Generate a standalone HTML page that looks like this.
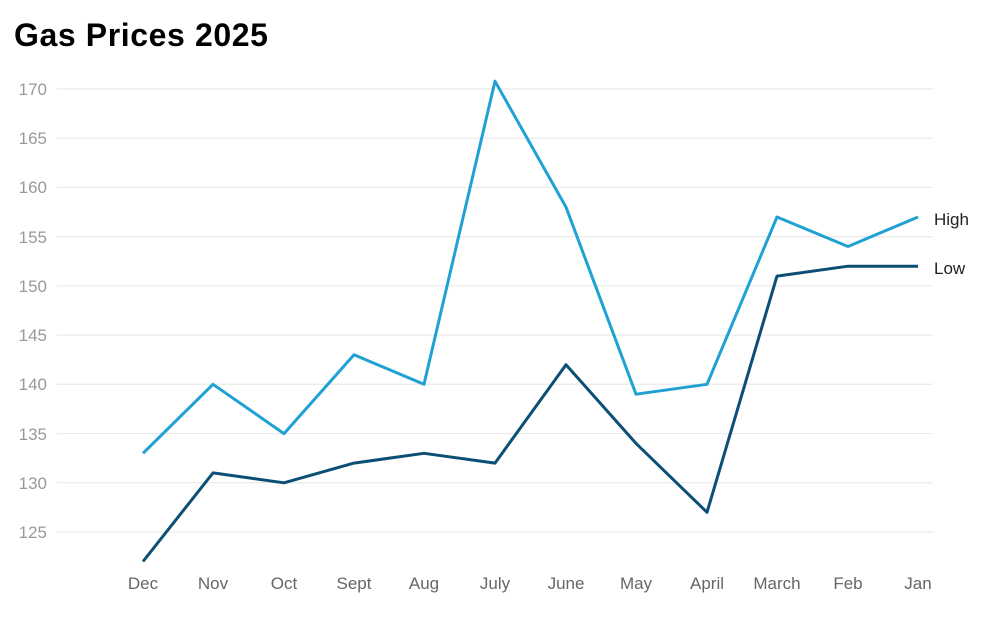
<!DOCTYPE html>
<html><head><style>
body{margin:0;background:#fff;width:983px;height:612px;overflow:hidden;font-family:"Liberation Sans",sans-serif;}
</style></head><body>
<svg width="983" height="612" xmlns="http://www.w3.org/2000/svg" font-family="Liberation Sans, sans-serif">
<text x="14" y="46" font-size="32" font-weight="bold" fill="#000" letter-spacing="0.6">Gas Prices 2025</text>
<g stroke="#e6e6e6" stroke-width="1">
<line x1="57" x2="933" y1="89" y2="89"/><line x1="57" x2="933" y1="138.2" y2="138.2"/>
<line x1="57" x2="933" y1="187.4" y2="187.4"/><line x1="57" x2="933" y1="236.7" y2="236.7"/>
<line x1="57" x2="933" y1="285.9" y2="285.9"/><line x1="57" x2="933" y1="335.1" y2="335.1"/>
<line x1="57" x2="933" y1="384.3" y2="384.3"/><line x1="57" x2="933" y1="433.6" y2="433.6"/>
<line x1="57" x2="933" y1="482.8" y2="482.8"/><line x1="57" x2="933" y1="532" y2="532"/>
</g>
<g font-size="17" fill="#999" text-anchor="end">
<text x="47" y="95">170</text><text x="47" y="144">165</text><text x="47" y="193">160</text>
<text x="47" y="243">155</text><text x="47" y="292">150</text><text x="47" y="341">145</text>
<text x="47" y="390">140</text><text x="47" y="440">135</text><text x="47" y="489">130</text>
<text x="47" y="538">125</text>
</g>
<g font-size="17" fill="#666" text-anchor="middle">
<text x="143" y="589">Dec</text><text x="213" y="589">Nov</text><text x="284" y="589">Oct</text>
<text x="354" y="589">Sept</text><text x="424" y="589">Aug</text><text x="495" y="589">July</text>
<text x="566" y="589">June</text><text x="636" y="589">May</text><text x="707" y="589">April</text>
<text x="777" y="589">March</text><text x="848" y="589">Feb</text><text x="918" y="589">Jan</text>
</g>
<polyline fill="none" stroke="#1fa2d3" stroke-width="3" stroke-linejoin="round" points="143,453.3 213,384.3 284,433.6 354,354.8 424,384.3 495,81.2 566,207.1 636,394.2 707,384.3 777,217 848,246.5 918,217"/>
<polyline fill="none" stroke="#0b4f76" stroke-width="3" stroke-linejoin="round" points="143,561.5 213,472.9 284,482.8 354,463.1 424,453.3 495,463.1 566,364.7 636,443.4 707,512.3 777,276.1 848,266.2 918,266.2"/>
<text x="934" y="225" font-size="17" fill="#222">High</text>
<text x="934" y="274" font-size="17" fill="#222">Low</text>
</svg>
</body></html>
